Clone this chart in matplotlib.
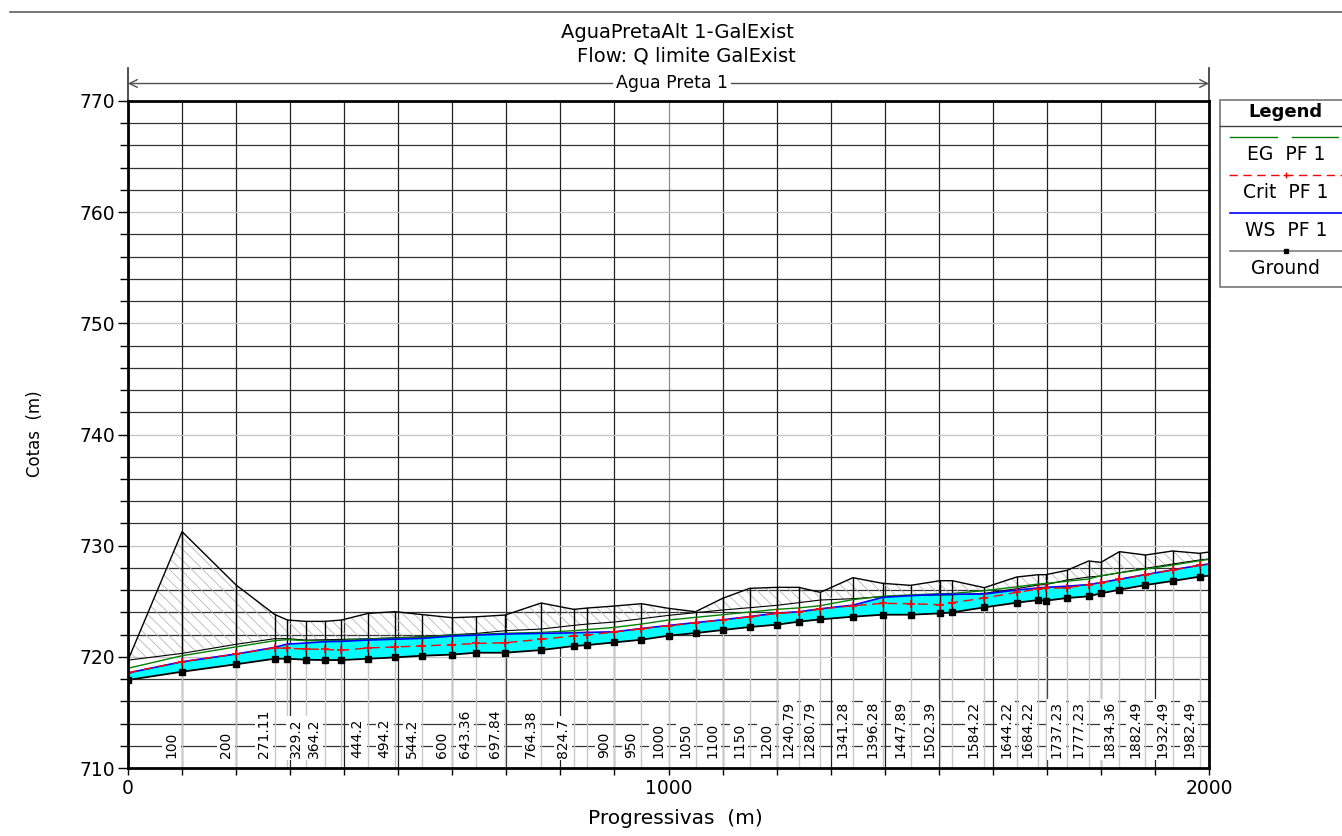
import matplotlib
matplotlib.use("Agg")
import matplotlib.pyplot as plt
from matplotlib.patches import Rectangle
from matplotlib.ticker import MultipleLocator, FixedLocator

# ---------------- data ----------------
stations = [0, 100, 200, 271.11, 295, 329.2, 364.2, 395, 444.2, 494.2, 544.2, 600,
            643.36, 697.84, 764.38, 824.7, 850, 900, 950, 1000, 1050, 1100, 1150,
            1200, 1240.79, 1280.79, 1341.28, 1396.28, 1447.89, 1502.39, 1525,
            1584.22, 1644.22, 1684.22, 1698, 1737.23, 1777.23, 1800, 1834.36,
            1882.49, 1932.49, 1982.49, 2000]
station_labels = ['', '100', '200', '271.11', '', '329.2', '364.2', '', '444.2', '494.2',
                  '544.2', '600', '643.36', '697.84', '764.38', '824.7', '', '900', '950',
                  '1000', '1050', '1100', '1150', '1200', '1240.79', '1280.79', '1341.28',
                  '1396.28', '1447.89', '1502.39', '', '1584.22', '1644.22', '1684.22', '',
                  '1737.23', '1777.23', '', '1834.36', '1882.49', '1932.49', '1982.49', '']
ground = [717.92, 718.66, 719.33, 719.83, 719.83, 719.74, 719.71, 719.71, 719.83, 719.95,
          720.10, 720.20, 720.37, 720.37, 720.61, 720.97, 721.06, 721.30, 721.54, 721.90,
          722.14, 722.41, 722.68, 722.89, 723.16, 723.37, 723.61, 723.79, 723.79, 723.91,
          724.00, 724.45, 724.87, 725.11, 725.05, 725.29, 725.44, 725.71, 726.04, 726.46,
          726.82, 727.21, 727.30]
crit_pf1 = [718.57, 719.56, 720.25, 720.80, 720.77, 720.70, 720.67, 720.58, 720.80, 720.89,
            720.98, 721.09, 721.20, 721.27, 721.58, 721.87, 721.97, 722.23, 722.53, 722.80,
            723.07, 723.31, 723.60, 723.91, 724.03, 724.30, 724.60, 724.81, 724.78, 724.69,
            724.87, 725.29, 725.80, 726.10, 726.15, 726.22, 726.49, 726.67, 726.97, 727.39,
            727.81, 728.23, 728.33]
ws_pf1 = [718.55, 719.56, 720.25, 720.85, 721.15, 721.24, 721.36, 721.39, 721.51, 721.58,
          721.66, 721.87, 721.95, 722.05, 722.11, 722.16, 722.20, 722.25, 722.55, 722.82,
          723.08, 723.33, 723.62, 723.93, 724.05, 724.32, 724.65, 725.35, 725.50, 725.62,
          725.63, 725.65, 726.01, 726.20, 726.25, 726.35, 726.50, 726.68, 726.98, 727.40,
          727.82, 728.24, 728.35]
eg_pf1 = [718.97, 720.10, 720.90, 721.45, 721.55, 721.45, 721.45, 721.47, 721.60, 721.68,
          721.76, 721.95, 722.02, 722.12, 722.20, 722.35, 722.45, 722.65, 722.95, 723.31,
          723.55, 723.79, 724.03, 724.27, 724.40, 724.60, 725.15, 725.45, 725.57, 725.68,
          725.70, 725.95, 726.30, 726.55, 726.60, 726.80, 727.00, 727.30, 727.55, 727.90,
          728.25, 728.65, 728.77]
bank_low = [719.70, 720.31, 721.13, 721.63, 721.63, 721.51, 721.54, 721.57, 721.63, 721.72,
            721.81, 721.99, 722.10, 722.35, 722.50, 722.83, 722.95, 723.13, 723.43, 723.73,
            723.97, 724.21, 724.42, 724.63, 724.87, 725.11, 725.23, 725.41, 725.53, 725.56,
            725.58, 725.71, 726.13, 726.46, 726.50, 726.91, 727.18, 727.27, 727.57, 727.96,
            728.35, 728.71, 728.80]
bank_high = [719.70, 731.26, 726.46, 723.82, 723.31, 723.19, 723.19, 723.31, 723.91, 724.06,
             723.80, 723.52, 723.60, 723.76, 724.84, 724.27, 724.39, 724.57, 724.78, 724.36,
             724.06, 725.26, 726.16, 726.25, 726.25, 725.80, 727.12, 726.61, 726.43, 726.85,
             726.85, 726.22, 727.18, 727.39, 727.39, 727.78, 728.62, 728.50, 729.46, 729.16,
             729.52, 729.31, 729.43]
x_ticks = [0, 1000, 2000]
y_ticks = [710, 720, 730, 740, 750, 760, 770]

title1 = "AguaPretaAlt 1-GalExist"
title2 = "Flow: Q limite GalExist"
reach_name = "Agua Preta 1"
legend_entries = ["EG  PF 1", "Crit  PF 1", "WS  PF 1", "Ground"]

# ---------------- figure ----------------
W, H = 1342, 836
plt.rcParams['font.family'] = ['DejaVu Sans']
plt.rcParams['hatch.linewidth'] = 0.6
fig = plt.figure(figsize=(W / 100, H / 100), dpi=100)
L, R, T, B = 128, 1209, 101, 768
ax = fig.add_axes([L / W, 1 - B / H, (R - L) / W, (B - T) / H])
ax.set_xlim(0, 2000)
ax.set_ylim(710, 770)

# grid
ax.xaxis.set_major_locator(FixedLocator(x_ticks))
ax.xaxis.set_minor_locator(MultipleLocator(100))
ax.yaxis.set_major_locator(FixedLocator(y_ticks))
ax.yaxis.set_minor_locator(MultipleLocator(2))
ax.set_axisbelow(True)
ax.grid(which='minor', axis='y', color='#333333', lw=0.9)
ax.grid(which='major', axis='y', color='#c4c4c4', lw=0.9)
ax.grid(which='minor', axis='x', color='#222222', lw=0.9)
ax.grid(which='major', axis='x', color='#8c8c8c', lw=0.9)

# station lines below ground (light gray)
for s, g in zip(stations[:-1], ground[:-1]):
    ax.plot([s, s], [710, g], color='#c8c8c8', lw=1.0, zorder=1)

# hatched overbank region
ax.fill_between(stations, bank_low, bank_high, facecolor='none', edgecolor='#b8b8b8',
                hatch='\\\\\\', linewidth=0, zorder=1.5)
# water
ax.fill_between(stations, ground, ws_pf1, facecolor='#00ffff', edgecolor='none', zorder=2)

# station lines ground-to-bank (black)
for s, g, u in zip(stations[:-1], ground[:-1], bank_high[:-1]):
    ax.plot([s, s], [g, u], color='black', lw=1.0, zorder=3)

ax.plot(stations, bank_high, color='black', lw=1.0, zorder=3)
ax.plot(stations, bank_low, color='black', lw=0.8, zorder=3)
ax.plot(stations, eg_pf1, color='#008000', lw=1.0, zorder=4)
ax.plot(stations, ws_pf1, color='#0000ff', lw=1.2, zorder=4)
ax.plot(stations, crit_pf1, color='#ff0000', lw=1.0, ls=(0, (7, 4)), marker='+', ms=6,
        mew=1.2, markevery=slice(0, len(stations) - 1), zorder=5)
ax.plot(stations, ground, color='black', lw=1.3, marker='s', ms=4,
        markevery=slice(0, len(stations) - 1), zorder=6)

# station labels
for s, lab in zip(stations, station_labels):
    if lab:
        ax.annotate(lab, xy=(s, 710.9), xytext=(-2.5, 0), textcoords='offset points',
                    rotation=90, ha='right', va='bottom', fontsize=10,
                    bbox=dict(facecolor='white', edgecolor='none', pad=1.5), zorder=7)

# ticks / spines
ax.tick_params(axis='y', which='major', length=7, width=1, labelsize=13.5, pad=2)
ax.tick_params(axis='y', which='minor', length=6, width=1)
ax.tick_params(axis='x', which='major', length=5, width=1, labelsize=13.5, pad=3)
ax.tick_params(axis='x', which='minor', length=5, width=1)
for sp in ax.spines.values():
    sp.set_linewidth(2)
    sp.set_zorder(8)

# reach arrow
ya = 1 + 17.5 / (B - T)
ax.annotate('', xy=(0, ya), xytext=(1, ya), xycoords='axes fraction',
            arrowprops=dict(arrowstyle='<->', color='#505050', lw=1.0,
                            shrinkA=0, shrinkB=0, mutation_scale=14))
for xf in (0, 1):
    ax.plot([xf, xf], [1, 1 + 33 / (B - T)], transform=ax.transAxes, color='#303030',
            lw=1.2, clip_on=False)
ax.text((672 - L) / (R - L), ya, reach_name, transform=ax.transAxes, ha='center',
        va='center', fontsize=12.5,
        bbox=dict(facecolor='white', edgecolor='none', pad=2))

# titles and axis labels
fig.text(677 / W, 1 - 33 / H, title1, ha='center', va='center', fontsize=14)
fig.text(686 / W, 1 - 56 / H, title2, ha='center', va='center', fontsize=14)
fig.text(35 / W, 1 - 434 / H, 'Cotas  (m)', rotation=90, ha='center', va='center',
         fontsize=12)
fig.text(675 / W, 1 - 818 / H, 'Progressivas  (m)', ha='center', va='center',
         fontsize=14.5)

# overlay for rule and legend
ov = fig.add_axes([0, 0, 1, 1], zorder=10)
ov.set_xlim(0, W)
ov.set_ylim(H, 0)
ov.axis('off')
ov.plot([10, W], [12, 12], color='#606060', lw=1.2)
ov.add_patch(Rectangle((1220, 100), 130, 187, facecolor='white', edgecolor='#808080', lw=1.3))
ov.text(1285, 112, 'Legend', ha='center', va='center', fontsize=13, fontweight='bold')
ov.plot([1220, W], [126, 126], color='#404040', lw=1.0)
ov.plot([1230, 1277], [137, 137], color='#008000', lw=1.0)
ov.plot([1292, 1338], [137, 137], color='#008000', lw=1.0)
ov.plot([1229, W], [175, 175], color='#ff0000', lw=1.0, ls=(0, (6, 4)))
ov.plot([1286], [175], color='#ff0000', marker='+', ms=5, mew=1.0)
ov.plot([1230, W], [213, 213], color='#0000ff', lw=1.2)
ov.plot([1230, W], [251, 251], color='#808080', lw=1.2)
ov.plot([1286], [251], color='black', marker='s', ms=3.5)
for yy, txt in zip([154, 192, 230, 268], legend_entries):
    ov.text(1286, yy, txt, ha='center', va='center', fontsize=13.5)

fig.savefig('out.png', dpi=100)
